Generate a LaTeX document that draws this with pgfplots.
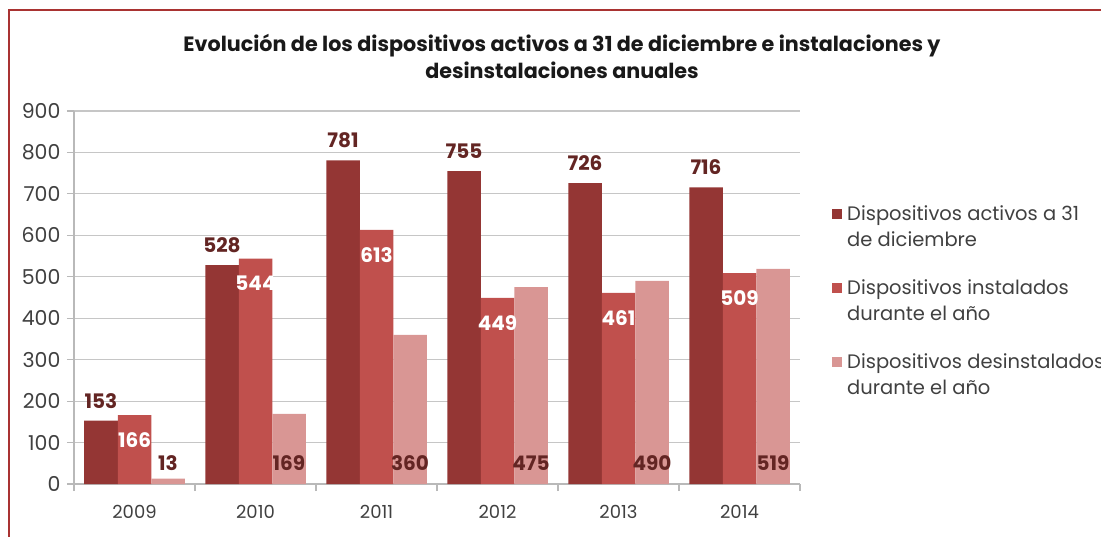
\documentclass[border=0pt]{standalone}
\usepackage{pgfplots}
\pgfplotsset{compat=1.18}
\usepackage{fontspec}
\setmainfont{Poppins}
\definecolor{cA}{HTML}{943634}
\definecolor{cB}{HTML}{C0504D}
\definecolor{cC}{HTML}{D99694}
\definecolor{labdark}{HTML}{632523}
\definecolor{frame}{HTML}{A93332}
\definecolor{txt}{HTML}{404040}
\begin{document}
\begin{tikzpicture}
\useasboundingbox (0,0) rectangle (1101pt,-537pt);
\draw[frame, line width=2.2pt] (9pt,-538pt) -- (9pt,-10pt) -- (1102pt,-10pt);
\node[font=\fontsize{20.7}{27}\selectfont\bfseries, text=black!90, align=center] at (562pt,-56pt)
  {Evolución de los dispositivos activos a 31 de diciembre e instalaciones y\\desinstalaciones anuales};
\begin{axis}[
  at={(74pt,-484pt)}, anchor=south west, scale only axis,
  width=726pt, height=373pt,
  xmin=-0.5, xmax=5.5, ymin=0, ymax=900,
  /pgf/number format/assume math mode=true,
  ytick={0,100,...,900},
  xtick={-0.5,0.5,1.5,2.5,3.5,4.5,5.5}, xticklabels={},
  extra x ticks={0,1,2,3,4,5},
  extra x tick labels={2009,2010,2011,2012,2013,2014},
  extra x tick style={major tick length=0pt},
  axis x line*=bottom, axis y line*=left,
  axis line style={gray!55, line width=1.2pt},
  tick style={gray!55, line width=1.2pt},
  major tick length=7pt, tick align=outside,
  ymajorgrids, grid style={gray!45, line width=1.2pt},
  yticklabel style={font=\fontsize{20.5}{24}\selectfont, text=txt, xshift=-3pt},
  xticklabel style={font=\fontsize{18}{22}\selectfont, text=txt, yshift=-18pt},
  ybar=0pt, bar width=33.5pt,
  legend style={at={(1.04,0.758)}, anchor=north west, draw=none,
    font=\fontsize{19.5}{26}\selectfont, text=txt, cells={align=left, anchor=west}, row sep=28pt,
    /tikz/every odd column/.append style={column sep=3pt}},
  legend image code/.code={\fill[#1] (0pt,8pt) rectangle (10pt,18pt);\path[fill=none,draw=none] (0pt,-18pt) -- (10pt,-18pt);},
  every node near coord/.append style={font=\fontsize{20}{24}\selectfont\bfseries, anchor=center},
]
\addplot[fill=cA, draw=none, nodes near coords,
  every node near coord/.append style={text=labdark, yshift=20pt}]
  coordinates {(0,153) (1,528) (2,781) (3,755) (4,726) (5,716)};
\addplot[fill=cB, draw=none, nodes near coords,
  every node near coord/.append style={text=white, yshift=-25pt}]
  coordinates {(0,166) (1,544) (2,613) (3,449) (4,461) (5,509)};
\addplot[fill=cC, draw=none, nodes near coords,
  visualization depends on={y \as \rawy},
  every node near coord/.append style={text=labdark, yshift={21pt-\rawy*0.41444pt}}]
  coordinates {(0,13) (1,169) (2,360) (3,475) (4,490) (5,519)};
\legend{Dispositivos activos a 31\\de diciembre, Dispositivos instalados\\durante el año, Dispositivos desinstalados\\durante el año}
\end{axis}
\end{tikzpicture}
\end{document}
